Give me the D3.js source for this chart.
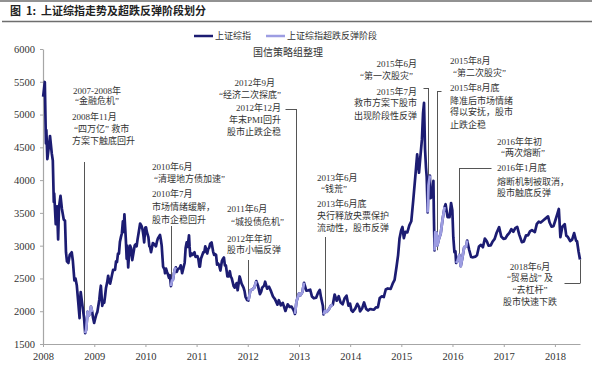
<!DOCTYPE html>
<html><head><meta charset="utf-8">
<script src="https://cdn.jsdelivr.net/npm/d3@7"></script>
<style>body{margin:0;background:#fff}svg{display:block}</style>
</head><body>
<svg id="chart" width="600" height="366"></svg>
<script>
// ---------------- DATA ----------------
const sse2008 = [["2008-01-02",5272],["2008-01-14",5497],["2008-01-22",4559],["2008-01-25",4761],["2008-02-01",4320],["2008-02-14",4552],["2008-02-20",4673],["2008-03-04",4400],["2008-03-11",4300],["2008-03-18",3668],["2008-03-21",3796],["2008-04-01",3329],["2008-04-10",3600],["2008-04-18",3094],["2008-04-24",3583],["2008-05-05",3761],["2008-05-15",3560],["2008-05-28",3400],["2008-06-06",3380],["2008-06-13",2900],["2008-06-20",2760],["2008-06-30",2736],["2008-07-10",2860],["2008-07-24",2900],["2008-08-01",2770],["2008-08-12",2470],["2008-08-20",2500],["2008-08-29",2397],["2008-09-08",2150],["2008-09-18",1895],["2008-09-19",2075],["2008-09-26",2293],["2008-10-09",2073],["2008-10-20",1900],["2008-10-28",1664],["2008-11-04",1720],["2008-11-14",1990],["2008-11-21",1930],["2008-12-01",1960],["2008-12-08",2070],["2008-12-17",1990],["2008-12-23",1900],["2008-12-31",1821]];
const sse2009 = [["2009-01-09",1900],["2009-01-16",1955],["2009-01-23",1990],["2009-02-06",2180],["2009-02-11",2290],["2009-02-17",2389],["2009-02-27",2082],["2009-03-05",2150],["2009-03-13",2130],["2009-03-19",2230],["2009-03-25",2350],["2009-04-03",2440],["2009-04-10",2540],["2009-04-17",2450],["2009-04-24",2420],["2009-04-30",2477],["2009-05-08",2560],["2009-05-15",2630],["2009-05-29",2632],["2009-06-05",2760],["2009-06-12",2750],["2009-06-19",2880],["2009-06-26",2880],["2009-07-03",3060],["2009-07-10",3130],["2009-07-17",3190],["2009-07-24",3370],["2009-07-29",3210],["2009-08-04",3478],["2009-08-14",3100],["2009-08-20",2800],["2009-08-24",3000],["2009-08-31",2667],["2009-09-04",2800],["2009-09-14",3000],["2009-09-21",2960],["2009-09-29",2780],["2009-10-16",3000],["2009-10-23",3020],["2009-10-30",2990],["2009-11-06",3100],["2009-11-13",3190],["2009-11-24",3338],["2009-12-04",3300],["2009-12-11",3250],["2009-12-18",3150],["2009-12-23",3050],["2009-12-31",3277]];
const sse2010 = [["2010-01-05",3280],["2010-01-11",3210],["2010-01-22",3130],["2010-01-29",2990],["2010-02-03",2980],["2010-02-10",2900],["2010-02-23",3040],["2010-03-05",3020],["2010-03-17",2990],["2010-03-24",3060],["2010-03-31",3110],["2010-04-15",3164],["2010-04-21",3090],["2010-04-27",3000],["2010-05-07",2680],["2010-05-17",2640],["2010-05-21",2580],["2010-05-28",2650],["2010-06-04",2600],["2010-06-11",2560],["2010-06-18",2510],["2010-06-25",2550],["2010-07-02",2383],["2010-07-09",2470],["2010-07-16",2480],["2010-07-23",2570],["2010-07-30",2640],["2010-08-06",2670],["2010-08-13",2600],["2010-08-20",2640],["2010-09-03",2660],["2010-09-10",2700],["2010-09-20",2580],["2010-10-08",2740],["2010-10-15",2970],["2010-10-22",3050],["2010-10-29",2980],["2010-11-08",3159],["2010-11-12",2985],["2010-11-17",2840],["2010-11-26",2880],["2010-12-03",2860],["2010-12-10",2880],["2010-12-17",2900],["2010-12-24",2830]];
const sse2011 = [["2011-01-07",2840],["2011-01-14",2790],["2011-01-21",2680],["2011-01-25",2680],["2011-02-01",2800],["2011-02-18",2900],["2011-02-25",2900],["2011-03-04",2990],["2011-03-11",2940],["2011-03-18",2880],["2011-03-25",2950],["2011-04-01",2970],["2011-04-08",3030],["2011-04-18",3050],["2011-04-29",2910],["2011-05-06",2860],["2011-05-13",2870],["2011-05-20",2860],["2011-05-27",2710],["2011-06-03",2730],["2011-06-10",2705],["2011-06-20",2621],["2011-07-01",2770],["2011-07-08",2800],["2011-07-15",2820],["2011-07-22",2700],["2011-07-29",2700],["2011-08-09",2530],["2011-08-19",2530],["2011-08-26",2610],["2011-09-02",2530],["2011-09-09",2500],["2011-09-23",2380],["2011-09-30",2360],["2011-10-14",2430],["2011-10-21",2320],["2011-11-04",2530],["2011-11-11",2480],["2011-11-18",2420],["2011-11-25",2390],["2011-12-02",2360],["2011-12-09",2310],["2011-12-16",2220],["2011-12-28",2170]];
const sse2012 = [["2012-01-06",2163],["2012-01-13",2245],["2012-01-20",2319],["2012-02-03",2330],["2012-02-10",2350],["2012-02-17",2360],["2012-03-02",2460],["2012-03-14",2390],["2012-03-28",2260],["2012-04-06",2300],["2012-04-13",2360],["2012-04-27",2390],["2012-05-04",2450],["2012-05-18",2344],["2012-06-01",2373],["2012-06-15",2306],["2012-06-29",2225],["2012-07-13",2185],["2012-07-31",2100],["2012-08-10",2168],["2012-08-24",2090],["2012-09-07",2128],["2012-09-26",2004],["2012-10-12",2105],["2012-10-26",2066],["2012-11-09",2070],["2012-11-23",2017],["2012-12-03",1959],["2012-12-14",2150],["2012-12-31",2269]];
const sse2013 = [["2013-01-11",2243],["2013-01-25",2292],["2013-02-06",2434],["2013-02-22",2314],["2013-03-08",2318],["2013-03-22",2328],["2013-04-03",2226],["2013-04-17",2197],["2013-05-03",2205],["2013-05-17",2282],["2013-05-29",2324],["2013-06-07",2211],["2013-06-20",2084],["2013-06-25",1951],["2013-07-05",2007],["2013-07-19",1992],["2013-08-02",2029],["2013-08-16",2085],["2013-08-30",2098],["2013-09-12",2255],["2013-09-27",2160],["2013-10-11",2228],["2013-10-25",2132],["2013-11-08",2106],["2013-11-22",2197],["2013-12-06",2237],["2013-12-20",2085],["2013-12-31",2116]];
const sse2014 = [["2014-01-10",2013],["2014-01-20",1992],["2014-02-07",2044],["2014-02-21",2113],["2014-03-07",2057],["2014-03-12",1998],["2014-03-28",2046],["2014-04-10",2134],["2014-04-25",2036],["2014-05-09",2011],["2014-05-23",2034],["2014-06-06",2029],["2014-06-20",2025],["2014-07-04",2059],["2014-07-18",2059],["2014-07-31",2201],["2014-08-15",2226],["2014-08-29",2217],["2014-09-12",2331],["2014-09-26",2347],["2014-10-17",2341],["2014-10-31",2420],["2014-11-14",2478],["2014-11-28",2683],["2014-12-09",2856],["2014-12-19",3108],["2014-12-31",3235]];
const sse2015 = [["2015-01-09",3285],["2015-01-19",3116],["2015-01-30",3210],["2015-02-13",3203],["2015-02-27",3310],["2015-03-13",3372],["2015-03-27",3691],["2015-04-10",4034],["2015-04-24",4394],["2015-05-07",4112],["2015-05-15",4309],["2015-05-28",4621],["2015-06-05",5023],["2015-06-12",5178],["2015-06-19",4478],["2015-06-26",4192],["2015-07-01",4054],["2015-07-08",3507],["2015-07-14",3924],["2015-07-24",4070],["2015-07-27",3725],["2015-08-07",3744],["2015-08-18",3990],["2015-08-21",3507],["2015-08-26",2927],["2015-08-31",3206],["2015-09-10",3197],["2015-09-15",3005],["2015-09-25",3092],["2015-10-09",3183],["2015-10-23",3412],["2015-11-06",3590],["2015-11-13",3632],["2015-11-27",3436],["2015-12-11",3434],["2015-12-22",3651],["2015-12-31",3539]];
const sse2016 = [["2016-01-07",3125],["2016-01-15",2901],["2016-01-22",2916],["2016-01-27",2736],["2016-02-05",2763],["2016-02-19",2861],["2016-02-29",2688],["2016-03-11",2810],["2016-03-25",2979],["2016-04-08",2985],["2016-04-15",3078],["2016-04-29",2938],["2016-05-13",2827],["2016-05-27",2822],["2016-06-12",2833],["2016-06-24",2854],["2016-07-08",2988],["2016-07-22",3012],["2016-08-05",2976],["2016-08-19",3108],["2016-09-02",3067],["2016-09-14",3002],["2016-09-30",3005],["2016-10-14",3064],["2016-10-28",3104],["2016-11-11",3197],["2016-11-29",3282],["2016-12-14",3140],["2016-12-30",3104]];
const sse2017 = [["2017-01-13",3112],["2017-01-26",3159],["2017-02-10",3196],["2017-02-24",3253],["2017-03-10",3212],["2017-03-24",3269],["2017-04-07",3287],["2017-04-21",3173],["2017-05-10",3053],["2017-05-24",3064],["2017-06-09",3158],["2017-06-23",3158],["2017-07-07",3218],["2017-07-21",3238],["2017-08-11",3208],["2017-08-25",3332],["2017-09-08",3365],["2017-09-22",3353],["2017-10-13",3391],["2017-10-27",3416],["2017-11-13",3447],["2017-11-24",3353],["2017-12-08",3289],["2017-12-22",3297]];
const sse2018 = [["2018-01-05",3391],["2018-01-19",3488],["2018-01-29",3560],["2018-02-09",3129],["2018-02-23",3289],["2018-03-12",3327],["2018-03-23",3153],["2018-04-04",3131],["2018-04-20",3071],["2018-05-04",3091],["2018-05-18",3193],["2018-06-01",3075],["2018-06-08",3067],["2018-06-19",2907],["2018-06-29",2790]];

// rebound (超跌反弹) phases
const reboundPeriods = [["2008-10-28","2008-12-17"],["2010-07-02","2010-08-06"],["2012-01-06","2012-03-02"],["2012-12-03","2013-02-06"],["2013-06-25","2013-08-30"],["2015-07-08","2015-07-24"],["2015-08-26","2015-11-06"],["2016-01-27","2016-04-15"]];

const yTickValues = [1500,2000,2500,3000,3500,4000,4500,5000,5500,6000];
const xTickYears = [2008,2009,2010,2011,2012,2013,2014,2015,2016,2017,2018];
const seriesNames = ["上证综指","上证综指超跌反弹阶段"];
const titleText = "图  1:  上证综指走势及超跌反弹阶段划分";
const sourceText = "国信策略组整理";

// event leader lines: date, value at bottom end
const eventDates = ["2008-10-20","2010-06-29","2012-01-04","2012-12-08","2013-07-02","2015-07-08","2015-09-10","2016-02-14","2018-06-29"];
const eventValues = [1700,2430,2220,1970,1970,3500,2930,2740,2790];

// annotation text blocks
const noteTexts = [
  ["2007-2008年","“金融危机”"],
  ["2008年11月","“四万亿” 救市","方案下触底回升"],
  ["2010年6月","“清理地方债加速”","2010年7月","市场情绪缓解，","股市企稳回升"],
  ["2011年6月","“城投债危机”","2012年年初","股市小幅反弹"],
  ["2012年9月","“经济二次探底”","2012年12月","年末PMI回升","股市止跌企稳"],
  ["2013年6月","“钱荒”","2013年6月底","央行释放央票保护","流动性，股市反弹"],
  ["2015年6月","“第一次股灾”","2015年7月","救市方案下股市","出现阶段性反弹"],
  ["2015年8月","“第二次股灾”","2015年8月底","降准后市场情绪","得以安抚，股市","止跌企稳"],
  ["2016年年初","“两次熔断”","2016年1月底","熔断机制被取消，","股市触底反弹"],
  ["2018年6月","“贸易战” 及","“去杠杆”","股市快速下跌"]
];

// ---------------- LAYOUT ----------------
const plot = {left:43, right:580, top:49, bottom:344};
const darkColor = "#1c1c72", lightColor = "#9d9de2";
const font = "'Liberation Serif','Noto Sans CJK SC',serif";
const cjk = "'Noto Sans CJK SC','Noto Sans',sans-serif";
const noteLayout = [
  {x:97, anchor:"middle", ys:[91,101]},
  {x:72, anchor:"start", ys:[117,129,141], dx:[0,2,0]},
  {x:152, anchor:"start", ys:[167,179,194,207,220], dx:[0,2,0,0,0]},
  {x:227, anchor:"start", ys:[209,222,239,250], dx:[0,4,0,0]},
  {x:281, anchor:"end", ys:[83,95,108,120,132], dx:[-6,0,0,0,0]},
  {x:317, anchor:"start", ys:[178,189,204,216,228], dx:[0,4,0,0,0]},
  {x:417, anchor:"end", ys:[64,76,92,103,116], dx:[0,-4,0,0,0]},
  {x:450, anchor:"start", ys:[61,73,88,101,112,125], dx:[0,3,0,0,0,0]},
  {x:497, anchor:"start", ys:[142,153,168,182,193], dx:[0,4,0,0,0]},
  {x:530, anchor:"middle", ys:[267,278,290,302]}
];
const leaderTop = [162,226,260,109,237,88,91,168,283];
const leaderTick = [0,0,0,-11,0,-5,4,32,-16];

// ---------------- DRAW ----------------
const parse = d3.timeParse("%Y-%m-%d");
const data = [sse2008,sse2009,sse2010,sse2011,sse2012,sse2013,sse2014,sse2015,sse2016,sse2017,sse2018]
  .flat().map(([d,v]) => ({date: parse(d), v})).sort((a,b) => a.date - b.date);

const svg = d3.select("#chart");
const x = d3.scaleTime().domain([new Date(2008,0,1), parse("2018-06-29")]).range([plot.left, plot.right]);
const y = d3.scaleLinear().domain([1500,6000]).range([plot.bottom, plot.top]);

// header
svg.append("line").attr("x1",0).attr("x2",592).attr("y1",1).attr("y2",1).attr("stroke","#6e6e6e").attr("stroke-width",1.5);
svg.append("line").attr("x1",2).attr("x2",592).attr("y1",21.5).attr("y2",21.5).attr("stroke","#6e6e6e").attr("stroke-width",1.5);
svg.append("text").attr("x",10).attr("y",11).attr("dy","0.35em").attr("xml:space","preserve").style("white-space","pre")
  .attr("font-family",cjk).attr("font-weight","bold").attr("font-size",11).attr("fill","#222").text(titleText);

// legend
const lg = svg.append("g").attr("font-family",cjk).attr("font-size",9).attr("fill","#333");
lg.append("line").attr("x1",194).attr("x2",213).attr("y1",36).attr("y2",36).attr("stroke",darkColor).attr("stroke-width",2.5);
lg.append("text").attr("x",215).attr("y",36).attr("dy","0.35em").text(seriesNames[0]);
lg.append("line").attr("x1",266).attr("x2",285).attr("y1",36).attr("y2",36).attr("stroke",lightColor).attr("stroke-width",2.5);
lg.append("text").attr("x",287).attr("y",36).attr("dy","0.35em").text(seriesNames[1]);
svg.append("text").attr("x",288).attr("y",52).attr("dy","0.35em").attr("text-anchor","middle")
  .attr("font-family",cjk).attr("font-size",10).attr("fill","#333").text(sourceText);

// axes
const yAxis = d3.axisLeft(y).tickValues(yTickValues).tickSize(3).tickSizeOuter(0).tickPadding(5).tickFormat(d3.format("d"));
const gy = svg.append("g").attr("transform",`translate(${plot.left},0)`).call(yAxis);
const xAxis = d3.axisBottom(x).tickValues(xTickYears.map(yr => new Date(yr,0,1))).tickSize(3).tickSizeOuter(0).tickPadding(6).tickFormat(d3.timeFormat("%Y"));
const gx = svg.append("g").attr("transform",`translate(0,${plot.bottom})`).call(xAxis);
[gx,gy].forEach(g => {
  g.select(".domain").attr("stroke","#a6a6a6").attr("stroke-width",1.2);
  g.selectAll(".tick line").attr("stroke","#a6a6a6");
  g.selectAll(".tick text").attr("font-family",font).attr("font-size",10.5).attr("fill","#333");
});

// leaders
const lead = svg.append("g").attr("stroke","#555").attr("stroke-width",1).attr("fill","none");
eventDates.forEach((d,i) => {
  const xp = Math.round(x(parse(d))) + 0.5;
  const yb = y(eventValues[i]);
  const yt = leaderTop[i];
  lead.append("line").attr("x1",xp).attr("x2",xp).attr("y1",yt).attr("y2",yb);
  if (leaderTick[i]) lead.append("line").attr("x1",xp).attr("x2",xp+leaderTick[i]).attr("y1",yt+0.5).attr("y2",yt+0.5);
});

// series lines
const line = d3.line().x(d => x(d.date)).y(d => y(d.v)).curve(d3.curveLinear);
svg.append("path").datum(data).attr("d",line).attr("fill","none")
  .attr("stroke",darkColor).attr("stroke-width",2.7).attr("stroke-linejoin","round");
reboundPeriods.forEach(([a,b]) => {
  const s = parse(a), e = parse(b);
  const seg = data.filter(p => p.date >= s && p.date <= e);
  svg.append("path").datum(seg).attr("d",line).attr("fill","none")
    .attr("stroke",lightColor).attr("stroke-width",2.7).attr("stroke-linejoin","round");
});

// notes
const ng = svg.append("g").attr("font-family",font).attr("font-size",9).attr("fill","#333");
noteTexts.forEach((lines,i) => {
  const L = noteLayout[i];
  lines.forEach((t,j) => {
    ng.append("text").attr("x",L.x + (L.dx ? L.dx[j] : 0)).attr("y",L.ys[j]).attr("dy","0.35em")
      .attr("text-anchor",L.anchor).text(t);
  });
});
</script>
</body></html>
